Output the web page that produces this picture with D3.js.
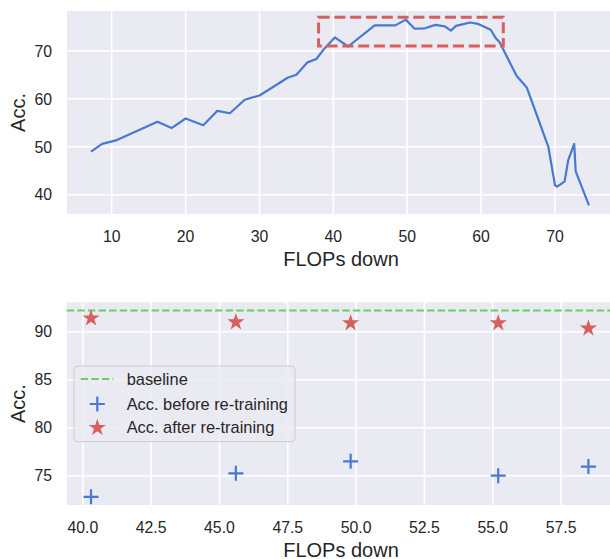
<!DOCTYPE html>
<html>
<head>
<meta charset="utf-8">
<script src="https://cdn.jsdelivr.net/npm/d3@7"></script>
<style>
  body { margin: 0; background: #fff; }
  svg { display: block; font-family: "Liberation Sans", Arial, sans-serif; }
  .tick-label { fill: #262626; font-size: 15.8px; }
  .axis-title { fill: #262626; font-size: 20px; }
  .legend-text { fill: #262626; font-size: 16.4px; }
</style>
</head>
<body>
<div id="chart"></div>
<script>
// top panel: accuracy vs FLOPs reduction (no re-training)
const flops = [7.2, 8.7, 10.7, 16.2, 18.1, 20.0, 22.4, 24.3, 26.0, 28.0, 30.0, 32.7, 33.8, 35.0,
  36.5, 37.7, 38.8, 40.2, 42.0, 45.6, 48.4, 49.8, 51.0, 52.4, 53.8, 55.1, 55.9, 56.6, 58.5,
  59.6, 61.3, 62.0, 62.5, 64.8, 66.2, 69.1, 70.0, 70.3, 71.3, 71.8, 72.6, 72.8, 74.6];
const acc = [49.0, 50.6, 51.4, 55.2, 53.9, 55.9, 54.5, 57.5, 57.0, 59.8, 60.7, 63.3, 64.4, 65.0,
  67.6, 68.3, 70.5, 72.8, 70.9, 75.3, 75.3, 76.5, 74.6, 74.7, 75.4, 75.1, 74.2, 75.2, 75.9,
  75.6, 74.4, 72.6, 71.8, 64.8, 62.3, 50.0, 42.0, 41.7, 42.8, 47.3, 50.6, 44.9, 37.8];
const topXTicks = [10, 20, 30, 40, 50, 60, 70];
const topYTicks = [40, 50, 60, 70];
// highlighted region [x0, x1, y0, y1]
const box = [38, 63, 71, 77];

// bottom panel: selected points before / after re-training
const selFlops = [40.3, 45.6, 49.8, 55.2, 58.5];
const accBefore = [72.8, 75.25, 76.5, 75.0, 75.95];
const accAfter = [91.5, 91.1, 91.0, 91.0, 90.45];
const baseline = 92.2;
const botXTicks = [40, 42.5, 45, 47.5, 50, 52.5, 55, 57.5];
const botYTicks = [75, 80, 85, 90];
const legendLabels = ["baseline", "Acc. before re-training", "Acc. after re-training"];

const W = 610, H = 559;
const blue = "#4878d0", red = "#d65f5f", green = "#6acc64";

const svg = d3.select("#chart").append("svg").attr("width", W).attr("height", H);

const panel = (x, y, xTicks, yTicks, fmt) => {
  const g = svg.append("g");
  const [x0, x1] = x.range();
  const [y0, y1] = y.range();
  g.append("rect")
    .attr("x", x0).attr("y", y1)
    .attr("width", x1 - x0).attr("height", y0 - y1)
    .style("fill", "#eaeaf2");
  g.selectAll(".gx").data(xTicks).enter().append("line")
    .attr("x1", (d) => x(d)).attr("x2", (d) => x(d))
    .attr("y1", y1).attr("y2", y0)
    .style("stroke", "#fff").style("stroke-width", 1.6);
  g.selectAll(".gy").data(yTicks).enter().append("line")
    .attr("x1", x0).attr("x2", x1)
    .attr("y1", (d) => y(d)).attr("y2", (d) => y(d))
    .style("stroke", "#fff").style("stroke-width", 1.6);
  g.selectAll(".tx").data(xTicks).enter().append("text")
    .attr("class", "tick-label")
    .attr("x", (d) => x(d)).attr("y", y0 + 27.5)
    .attr("text-anchor", "middle")
    .text(fmt);
  g.selectAll(".ty").data(yTicks).enter().append("text")
    .attr("class", "tick-label")
    .attr("x", 52).attr("y", (d) => y(d))
    .attr("dy", "0.36em")
    .attr("text-anchor", "end")
    .text((d) => d);
  g.append("text")
    .attr("class", "axis-title")
    .attr("x", 341).attr("y", y0 + 51.5)
    .attr("text-anchor", "middle")
    .text("FLOPs down");
  g.append("text")
    .attr("class", "axis-title")
    .attr("transform", `translate(25, ${(y0 + y1) / 2}) rotate(-90)`)
    .attr("text-anchor", "middle")
    .text("Acc.");
  return g;
};

// ---- top ----
const x1s = d3.scaleLinear().domain([3.95, 77.85]).range([67, 613]);
const y1s = d3.scaleLinear().domain([36.0, 78.3]).range([214, 11]);
const topPanel = panel(x1s, y1s, topXTicks, topYTicks, (d) => d);

topPanel.append("path")
  .datum(flops.map((f, i) => [f, acc[i]]))
  .attr("d", d3.line().x((d) => x1s(d[0])).y((d) => y1s(d[1])))
  .style("fill", "none")
  .style("stroke", blue)
  .style("stroke-width", 2.2)
  .style("stroke-linejoin", "round");

topPanel.append("rect")
  .attr("x", x1s(box[0])).attr("y", y1s(box[3]))
  .attr("width", x1s(box[1]) - x1s(box[0]))
  .attr("height", y1s(box[2]) - y1s(box[3]))
  .style("fill", "none")
  .style("stroke", red)
  .style("stroke-width", 3)
  .style("stroke-dasharray", "11,4.8");

// ---- bottom ----
const x2s = d3.scaleLinear().domain([39.41, 59.4]).range([66.7, 613]);
const y2s = d3.scaleLinear().domain([71.95, 93.06]).range([505, 302.3]);
const botPanel = panel(x2s, y2s, botXTicks, botYTicks, d3.format(".1f"));

botPanel.append("line")
  .attr("x1", x2s.range()[0]).attr("x2", x2s.range()[1])
  .attr("y1", y2s(baseline)).attr("y2", y2s(baseline))
  .style("stroke", green)
  .style("stroke-width", 2)
  .style("stroke-dasharray", "7.4,3.2");

const plus = (s, cx, cy, r) =>
  s.append("path")
    .attr("d", `M${cx - r},${cy}H${cx + r}M${cx},${cy - r}V${cy + r}`)
    .style("stroke", blue)
    .style("stroke-width", 2.2)
    .style("fill", "none");

const star = d3.symbol().type(d3.symbolStar).size(92);

selFlops.forEach((f, i) => plus(botPanel, x2s(f), y2s(accBefore[i]), 7.5));
botPanel.selectAll(".star").data(selFlops).enter().append("path")
  .attr("d", star)
  .attr("transform", (d, i) => `translate(${x2s(d)}, ${y2s(accAfter[i]) + 1})`)
  .style("fill", red);

// legend
const lg = botPanel.append("g").attr("transform", "translate(74, 366)");
lg.append("rect")
  .attr("width", 221).attr("height", 75.7)
  .attr("rx", 4)
  .style("fill", "#eaeaf2").style("fill-opacity", 0.8)
  .style("stroke", "#cccccc").style("stroke-width", 1);
const rows = [13, 38, 60.7];
lg.append("line")
  .attr("x1", 6.7).attr("x2", 39.3)
  .attr("y1", rows[0]).attr("y2", rows[0])
  .style("stroke", green).style("stroke-width", 2)
  .style("stroke-dasharray", "7.4,3.2");
plus(lg, 23.3, rows[1], 7.5);
lg.append("path")
  .attr("d", star)
  .attr("transform", `translate(23.3, ${rows[2] + 1})`)
  .style("fill", red);
lg.selectAll(".lt").data(legendLabels).enter().append("text")
  .attr("class", "legend-text")
  .attr("x", 52.7).attr("y", (d, i) => rows[i])
  .attr("dy", "0.36em")
  .text((d) => d);
</script>
</body>
</html>
